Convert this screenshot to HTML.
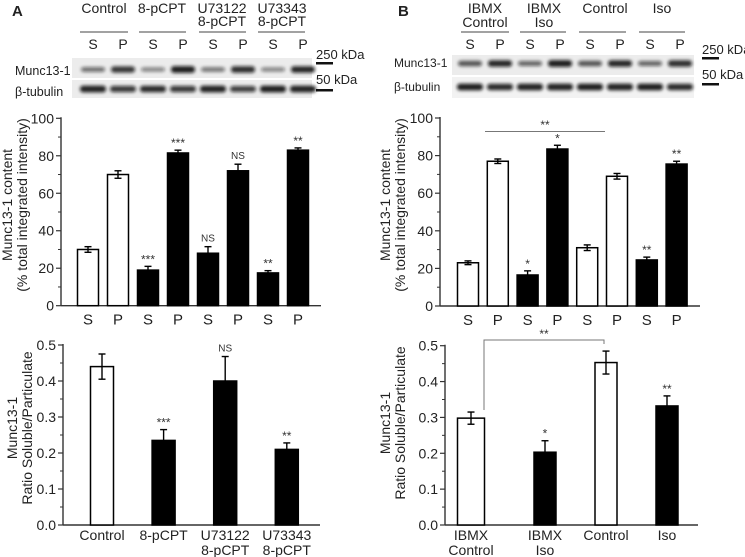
<!DOCTYPE html>
<html><head><meta charset="utf-8">
<style>
html,body{margin:0;padding:0;background:#fff;}
svg{display:block;font-family:"Liberation Sans",Arial,sans-serif;}
</style></head>
<body>
<svg id="fig" width="745" height="557" viewBox="0 0 745 557" xmlns="http://www.w3.org/2000/svg">
<defs>
<filter id="blur" x="-20%" y="-100%" width="140%" height="300%"><feGaussianBlur stdDeviation="1.6"/></filter>
</defs>
<!-- Panel A header -->
<g font-size="14" fill="#222">
<text x="12" y="16" font-weight="bold" font-size="15">A</text>
<text x="104" y="13" text-anchor="middle">Control</text>
<text x="162" y="13" text-anchor="middle">8-pCPT</text>
<text x="222" y="13" text-anchor="middle">U73122</text>
<text x="222" y="26" text-anchor="middle">8-pCPT</text>
<text x="282" y="13" text-anchor="middle">U73343</text>
<text x="282" y="26" text-anchor="middle">8-pCPT</text>
<g stroke="#444" stroke-width="1">
<line x1="80" y1="32" x2="128" y2="32"/><line x1="139" y1="32" x2="186" y2="32"/>
<line x1="199" y1="32" x2="246" y2="32"/><line x1="258" y1="32" x2="305" y2="32"/>
</g>
<text x="15" y="75" font-size="12.5">Munc13-1</text>
<text x="15" y="96" font-size="12.5">β-tubulin</text>
<rect x="72" y="58" width="240" height="20" fill="#ececec"/>
<rect x="72" y="80" width="240" height="18" fill="#ececec"/>
<text x="316" y="59" font-size="13">250 kDa</text>
<rect x="316" y="62" width="17" height="2.5" fill="#111"/>
<text x="316" y="84" font-size="13">50 kDa</text>
<rect x="316" y="89" width="17" height="2.5" fill="#111"/>
<g id="bandsA"></g>
</g>
<!-- Panel B header -->
<g font-size="14" fill="#222">
<text x="398" y="16" font-weight="bold" font-size="15">B</text>
<text x="485" y="13" text-anchor="middle">IBMX</text>
<text x="485" y="27" text-anchor="middle">Control</text>
<text x="544" y="13" text-anchor="middle">IBMX</text>
<text x="544" y="27" text-anchor="middle">Iso</text>
<text x="605" y="13" text-anchor="middle">Control</text>
<text x="662" y="13" text-anchor="middle">Iso</text>
<g stroke="#444" stroke-width="1">
<line x1="461" y1="32" x2="509" y2="32"/><line x1="520" y1="32" x2="566" y2="32"/>
<line x1="579" y1="32" x2="626" y2="32"/><line x1="639" y1="32" x2="685" y2="32"/>
</g>
<text x="394" y="67" font-size="12">Munc13-1</text>
<text x="394" y="91" font-size="12">β-tubulin</text>
<rect x="452" y="55" width="242" height="20" fill="#ececec"/>
<rect x="452" y="77" width="242" height="21" fill="#f2f2f2"/>
<text x="702" y="54" font-size="13">250 kDa</text>
<rect x="702" y="57" width="17" height="2.5" fill="#111"/>
<text x="702" y="79" font-size="13">50 kDa</text>
<rect x="702" y="83" width="17" height="2.5" fill="#111"/>
<g id="bandsB"></g>
</g>
<g id="charts"></g>
</svg>
<script>
// ---------- Data ----------
const aSPcats = ["S","P","S","P","S","P","S","P"];
const aSPvals = [30,70,19,81.5,28,72,17.5,83];
const aSPerr = [1.5,2,2,1.5,3.5,3.5,1.2,1.2];
const aSPfill = ["w","w","b","b","b","b","b","b"];
const aSPsig = ["","","***","***","NS","NS","**","**"];

const aRatioCats = [["Control"],["8-pCPT"],["U73122","8-pCPT"],["U73343","8-pCPT"]];
const aRatioVals = [0.44,0.235,0.40,0.21];
const aRatioErr = [0.035,0.03,0.068,0.018];
const aRatioFill = ["w","b","b","b"];
const aRatioSig = ["","***","NS","**"];

const bSPcats = ["S","P","S","P","S","P","S","P"];
const bSPvals = [23,77,16.5,83.5,31,69,24.5,75.5];
const bSPerr = [1,1.2,2.2,2,1.5,1.5,1.5,1.5];
const bSPfill = ["w","w","b","b","w","w","b","b"];
const bSPsig = ["","","*","*","","","**","**"];

const bRatioCats = [["IBMX","Control"],["IBMX","Iso"],["Control"],["Iso"]];
const bRatioVals = [0.298,0.203,0.453,0.332];
const bRatioErr = [0.017,0.032,0.032,0.028];
const bRatioFill = ["w","b","w","b"];
const bRatioSig = ["","*","","**"];

const spTicks = [0,20,40,60,80,100];
const ratioTicks = ["0.0","0.1","0.2","0.3","0.4","0.5"];

const blotMuncA = [0.45,0.8,0.3,0.95,0.4,0.85,0.3,0.9];
const blotTubA = [0.9,0.75,0.85,0.75,0.9,0.7,0.95,0.9];
const blotMuncB = [0.6,0.9,0.5,0.95,0.6,0.9,0.5,0.85];
const blotTubB = [0.95,0.85,0.9,0.9,0.95,0.9,0.95,0.85];

const NS="http://www.w3.org/2000/svg";
const root=document.getElementById('charts');
function mk(tag,attrs,parent,txt){const e=document.createElementNS(NS,tag);for(const k in attrs)e.setAttribute(k,attrs[k]);if(txt!==undefined)e.textContent=txt;(parent||root).appendChild(e);return e;}

function bands(gid,x0,pitch,munc,tub,yM,yT){
  const g=document.getElementById(gid);
  munc.forEach((v,i)=>{
    const cx=x0+i*pitch;
    const b=mk('rect',{x:cx-12,y:yM-2-v*2,width:24,height:3+v*4,fill:'#111','fill-opacity':(0.3+v*0.65).toFixed(2),filter:'url(#blur)',rx:3},g);
    
    
  });
  tub.forEach((v,i)=>{
    const cx=x0+i*pitch;
    const b=mk('rect',{x:cx-13,y:yT-2-v*1.5,width:26,height:4+v*3,fill:'#111','fill-opacity':(0.4+v*0.55).toFixed(2),filter:'url(#blur)',rx:3},g);
    
    
  });
}
bands('bandsA',93,30,blotMuncA,blotTubA,70,89);
bands('bandsB',470,30,blotMuncB,blotTubB,64,87);
[93,470].forEach(x0=>{
  for(let i=0;i<8;i++){const t=mk('text',{x:x0+i*30,y:49,'text-anchor':'middle','font-size':14,fill:'#222'},null,i%2?'P':'S');
  
  }
});

function chart(o){
  const g=mk('g',{});
  
  
  const y=v=>o.y0-(v-o.min)/(o.max-o.min)*(o.y0-o.y1);
  const x=i=>o.xs+i*o.pitch;
  mk('line',{x1:o.ax,y1:o.y1-1,x2:o.ax,y2:o.y0,stroke:'#333','stroke-width':1.4},g);
  mk('line',{x1:o.ax,y1:o.y0,x2:o.axEnd,y2:o.y0,stroke:'#333','stroke-width':1.4},g);
  o.ticks.forEach((t,k)=>{
    const v=+t, yy=y(v);
    mk('line',{x1:o.ax-5,y1:yy,x2:o.ax,y2:yy,stroke:'#333','stroke-width':1.2},g);
    const tl=mk('text',{x:o.ax-7,y:yy+5,'text-anchor':'end','font-size':14,fill:'#222'},g,t);
    
    
    if(k<o.ticks.length-1){const ym=y((v+(+o.ticks[k+1]))/2);mk('line',{x1:o.ax-3,y1:ym,x2:o.ax,y2:ym,stroke:'#333','stroke-width':1},g);}
  });
  const tt=mk('text',{transform:`translate(${o.tx},${o.ty}) rotate(-90)`,'text-anchor':'middle','font-size':14,fill:'#222'},g);
  o.title.forEach((line,i)=>{mk('tspan',{x:0,dy:i?15:0},tt,line);});
  
  
  o.vals.forEach((v,i)=>{
    const w=o.bw[i]||o.bw[0]; const cx=x(i)+(o.shift[i]||0);
    const r=mk('rect',{x:cx-w/2,y:y(v),width:w,height:o.y0-y(v),fill:o.fill[i]=='w'?'#fff':'#000',stroke:'#000','stroke-width':1.5},g);
    
    
    const e=o.err[i];
    const dn=o.fill[i]=='w'?v-e:v;
    mk('line',{x1:cx,y1:y(v+e),x2:cx,y2:y(dn),stroke:'#000','stroke-width':1.4},g);
    mk('line',{x1:cx-3.5,y1:y(v+e),x2:cx+3.5,y2:y(v+e),stroke:'#000','stroke-width':1.4},g);
    mk('line',{x1:cx-3.5,y1:y(v-e),x2:cx+3.5,y2:y(v-e),stroke:'#000','stroke-width':1.4},g);
    const s=o.sig[i];
    if(s){const st=mk('text',{x:cx,y:y(v+e)-(s=='NS'?5:3),'text-anchor':'middle','font-size':s=='NS'?10:12,fill:'#333'},g,s);
      
      }
    const lab=o.cats[i]; const lines=Array.isArray(lab)?lab:[lab];
    lines.forEach((l,k)=>{const t=mk('text',{x:cx,y:o.y0+o.labDy+k*15,'text-anchor':'middle','font-size':o.labFs,fill:'#222'},g,l);
      
      });
  });
  return {g,x,y};
}

chart({name:'chart-a-content',ax:61,axEnd:321,y0:305.7,y1:118.3,min:0,max:100,ticks:spTicks.map(String),xs:88,pitch:30,bw:[21],shift:[],
  vals:aSPvals,err:aSPerr,fill:aSPfill,sig:aSPsig,cats:aSPcats,labDy:19,labFs:15,
  title:["Munc13-1 content","(% total integrated intensity)"],tx:12,ty:205});
chart({name:'chart-a-ratio',ax:63,axEnd:320,y0:525,y1:345,min:0,max:0.5,ticks:ratioTicks,xs:102,pitch:61.6,bw:[23],shift:[],
  vals:aRatioVals,err:aRatioErr,fill:aRatioFill,sig:aRatioSig,cats:aRatioCats,labDy:15,labFs:14,
  title:["Munc13-1","Ratio Soluble/Particulate"],tx:17,ty:428});
chart({name:'chart-b-content',ax:440,axEnd:700,y0:306,y1:118,min:0,max:100,ticks:spTicks.map(String),xs:468,pitch:29.8,bw:[21],shift:[],
  vals:bSPvals,err:bSPerr,fill:bSPfill,sig:bSPsig,cats:bSPcats,labDy:19,labFs:15,
  title:["Munc13-1 content","(% total integrated intensity)"],tx:390,ty:205});
const br=mk('g',{});


mk('line',{x1:485,y1:131.5,x2:605,y2:131.5,stroke:'#777','stroke-width':1},br);
mk('text',{x:545,y:129,'text-anchor':'middle','font-size':12,fill:'#333'},br,'**');

const cR=chart({name:'chart-b-ratio',ax:445,axEnd:698,y0:525,y1:345.7,min:0,max:0.5,ticks:ratioTicks,xs:484,pitch:61,bw:[27,22,22,22],shift:[-13],
  vals:bRatioVals,err:bRatioErr,fill:bRatioFill,sig:bRatioSig,cats:bRatioCats,labDy:15,labFs:14,
  title:["Munc13-1","Ratio Soluble/Particulate"],tx:390,ty:423});
const br2=mk('g',{});


mk('polyline',{points:`484,${cR.y(bRatioVals[0]+bRatioErr[0])-2} 484,340 604,340 604,344`,fill:'none',stroke:'#777','stroke-width':1},br2);
mk('text',{x:544,y:338,'text-anchor':'middle','font-size':12,fill:'#333'},br2,'**');
</script>
</body></html>
